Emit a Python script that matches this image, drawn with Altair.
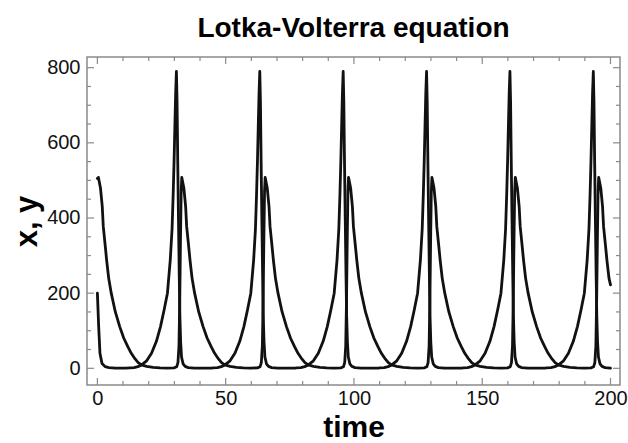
import altair as alt
import pandas as pd

# prey curve (tall peaks ~790)
a_t = [0, 0.5, 1.0, 1.8, 3.0, 4.5, 7, 11,
       14.3, 15.8, 17.2, 19.2, 21.1, 23.0, 24.6, 26.0, 27.3, 28.4, 29.1, 29.55, 29.9, 30.2, 30.5, 30.8,
       31.05, 31.3, 31.6, 31.9, 32.15, 32.45, 32.8, 33.4, 34.2, 35.4, 37.8, 41.8, 44.8,
       46.8, 48.3, 49.7, 51.7, 53.6, 55.5, 57.1, 58.5, 59.8, 60.9, 61.6, 62.05, 62.4, 62.7, 63.0, 63.3,
       63.55, 63.8, 64.1, 64.4, 64.65, 64.95, 65.3, 65.9, 66.7, 67.9, 70.3, 74.3, 77.3,
       79.3, 80.8, 82.2, 84.2, 86.1, 88.0, 89.6, 91.0, 92.3, 93.4, 94.1, 94.55, 94.9, 95.2, 95.5, 95.8,
       96.05, 96.3, 96.6, 96.9, 97.15, 97.45, 97.8, 98.4, 99.2, 100.4, 102.8, 106.8, 109.8,
       111.8, 113.3, 114.7, 116.7, 118.6, 120.5, 122.1, 123.5, 124.8, 125.9, 126.6, 127.05, 127.4, 127.7, 128.0, 128.3,
       128.55, 128.8, 129.1, 129.4, 129.65, 129.95, 130.3, 130.9, 131.7, 132.9, 135.3, 139.3, 142.3,
       144.3, 145.8, 147.2, 149.2, 151.1, 153.0, 154.6, 156.0, 157.3, 158.4, 159.1, 159.55, 159.9, 160.2, 160.5, 160.8,
       161.05, 161.3, 161.6, 161.9, 162.15, 162.45, 162.8, 163.4, 164.2, 165.4, 167.8, 171.8, 174.8,
       176.8, 178.3, 179.7, 181.7, 183.6, 185.5, 187.1, 188.5, 189.8, 190.9, 191.6, 192.05, 192.4, 192.7, 193.0, 193.3,
       193.55, 193.8, 194.1, 194.4, 194.65, 194.95, 195.3, 195.9, 196.7, 197.9, 200.0]
a_v = [200, 111, 40, 13, 4.5, 2, 0.6, 0.4,
       2, 4.5, 9, 20, 40, 72, 111, 155, 200, 288, 370, 465, 554, 643, 730, 790,
       710, 560, 400, 250, 140, 70, 30, 12, 5, 2, 0.6, 0.4, 0.9,
       2, 4.5, 9, 20, 40, 72, 111, 155, 200, 288, 370, 465, 554, 643, 730, 790,
       710, 560, 400, 250, 140, 70, 30, 12, 5, 2, 0.6, 0.4, 0.9,
       2, 4.5, 9, 20, 40, 72, 111, 155, 200, 288, 370, 465, 554, 643, 730, 790,
       710, 560, 400, 250, 140, 70, 30, 12, 5, 2, 0.6, 0.4, 0.9,
       2, 4.5, 9, 20, 40, 72, 111, 155, 200, 288, 370, 465, 554, 643, 730, 790,
       710, 560, 400, 250, 140, 70, 30, 12, 5, 2, 0.6, 0.4, 0.9,
       2, 4.5, 9, 20, 40, 72, 111, 155, 200, 288, 370, 465, 554, 643, 730, 790,
       710, 560, 400, 250, 140, 70, 30, 12, 5, 2, 0.6, 0.4, 0.9,
       2, 4.5, 9, 20, 40, 72, 111, 155, 200, 288, 370, 465, 554, 643, 730, 790,
       710, 560, 400, 250, 140, 70, 30, 12, 5, 2, 0.7]

# predator curve (peaks ~508)
b_t = [0, 0.4, 1.2, 1.9, 2.3, 3.0, 3.6, 4.4, 5.4, 7.0, 8.7, 10.3, 11.9, 13.2, 14.7, 15.9, 17.2, 19.2, 21.7, 24.4, 27.4,
       29.9, 30.9, 31.4, 31.8, 32.1, 32.4, 32.65, 32.9,
       33.7, 34.4, 34.8, 35.5, 36.1, 36.9, 37.9, 39.5, 41.2, 42.8, 44.4, 45.7, 47.2, 48.4, 49.7, 51.7, 54.2, 56.9, 59.9,
       62.4, 63.4, 63.9, 64.3, 64.6, 64.9, 65.15, 65.4,
       66.2, 66.9, 67.3, 68.0, 68.6, 69.4, 70.4, 72.0, 73.7, 75.3, 76.9, 78.2, 79.7, 80.9, 82.2, 84.2, 86.7, 89.4, 92.4,
       94.9, 95.9, 96.4, 96.8, 97.1, 97.4, 97.65, 97.9,
       98.7, 99.4, 99.8, 100.5, 101.1, 101.9, 102.9, 104.5, 106.2, 107.8, 109.4, 110.7, 112.2, 113.4, 114.7, 116.7, 119.2, 121.9, 124.9,
       127.4, 128.4, 128.9, 129.3, 129.6, 129.9, 130.15, 130.4,
       131.2, 131.9, 132.3, 133.0, 133.6, 134.4, 135.4, 137.0, 138.7, 140.3, 141.9, 143.2, 144.7, 145.9, 147.2, 149.2, 151.7, 154.4, 157.4,
       159.9, 160.9, 161.4, 161.8, 162.1, 162.4, 162.65, 162.9,
       163.7, 164.4, 164.8, 165.5, 166.1, 166.9, 167.9, 169.5, 171.2, 172.8, 174.4, 175.7, 177.2, 178.4, 179.7, 181.7, 184.2, 186.9, 189.9,
       192.4, 193.4, 193.9, 194.3, 194.6, 194.9, 195.15, 195.4,
       196.2, 196.9, 197.3, 198.0, 198.6, 199.4, 200.0]
b_v = [505, 508, 480, 430, 377, 330, 288, 240, 200, 150, 111, 80, 57, 40, 25, 15, 9, 5, 2.5, 1.2, 0.6,
       1.2, 4, 15, 60, 180, 350, 470, 508,
       480, 430, 377, 330, 288, 240, 200, 150, 111, 80, 57, 40, 25, 15, 9, 5, 2.5, 1.2, 0.6,
       1.2, 4, 15, 60, 180, 350, 470, 508,
       480, 430, 377, 330, 288, 240, 200, 150, 111, 80, 57, 40, 25, 15, 9, 5, 2.5, 1.2, 0.6,
       1.2, 4, 15, 60, 180, 350, 470, 508,
       480, 430, 377, 330, 288, 240, 200, 150, 111, 80, 57, 40, 25, 15, 9, 5, 2.5, 1.2, 0.6,
       1.2, 4, 15, 60, 180, 350, 470, 508,
       480, 430, 377, 330, 288, 240, 200, 150, 111, 80, 57, 40, 25, 15, 9, 5, 2.5, 1.2, 0.6,
       1.2, 4, 15, 60, 180, 350, 470, 508,
       480, 430, 377, 330, 288, 240, 200, 150, 111, 80, 57, 40, 25, 15, 9, 5, 2.5, 1.2, 0.6,
       1.2, 4, 15, 60, 180, 350, 470, 508,
       480, 430, 377, 330, 288, 240, 222]

x_major = [0, 50, 100, 150, 200]
x_minor = [10, 20, 30, 40, 60, 70, 80, 90, 110, 120, 130, 140, 160, 170, 180, 190]
y_major = [0, 200, 400, 600, 800]
y_minor = [50, 100, 150, 250, 300, 350, 450, 500, 550, 650, 700, 750]

W, H = 533, 328
FRAME = "#8a8a8a"
xs = alt.Scale(domain=[-4.05, 203.7], nice=False, zero=False)
ys = alt.Scale(domain=[-44.4, 828.4], nice=False, zero=False)

df = pd.concat([
    pd.DataFrame({"t": a_t, "v": a_v, "s": "x"}),
    pd.DataFrame({"t": b_t, "v": b_v, "s": "y"}),
])

lines = alt.Chart(df).mark_line(color="#111111", strokeWidth=2.8, strokeJoin="round", strokeCap="round").encode(
    x=alt.X("t:Q", scale=xs, axis=alt.Axis(values=x_major, title="time", labelPadding=3, titleFontSize=30,
                                           titleY=51, titleBaseline="alphabetic")),
    y=alt.Y("v:Q", scale=ys, axis=alt.Axis(values=y_major, title="x, y", labelPadding=7, titlePadding=3)),
    detail="s:N",
)


def xticks(vals, length, top):
    y0, y1 = (0, length) if top else (H, H - length)
    return alt.Chart(pd.DataFrame({"t": vals})).mark_rule(color=FRAME, strokeWidth=1.2).encode(
        x=alt.X("t:Q", scale=xs), y=alt.value(y0), y2=alt.value(y1)
    )


def yticks(vals, length, right):
    x0, x1 = (W, W - length) if right else (0, length)
    return alt.Chart(pd.DataFrame({"v": vals})).mark_rule(color=FRAME, strokeWidth=1.2).encode(
        y=alt.Y("v:Q", scale=ys), x=alt.value(x0), x2=alt.value(x1)
    )


layers = [lines]
for top in (False, True):
    layers.append(xticks(x_major, 7, top))
    layers.append(xticks(x_minor, 4, top))
for right in (False, True):
    layers.append(yticks(y_major, 7, right))
    layers.append(yticks(y_minor, 4, right))

chart = alt.layer(*layers).properties(
    width=W, height=H,
    title=alt.TitleParams("Lotka-Volterra equation", font="Liberation Sans",
                          fontSize=28, fontWeight="bold", color="#000000", anchor="middle", offset=13),
    autosize=alt.AutoSizeParams(type="none"),
    padding={"left": 87, "top": 57, "right": 8, "bottom": 58},
).configure_view(
    stroke=FRAME, strokeWidth=1.5
).configure_axis(
    domain=False, ticks=False, grid=False,
    labelFont="Liberation Sans", labelFontSize=20, labelColor="#111111",
    titleFont="Liberation Sans", titleFontSize=31, titleFontWeight="bold", titleColor="#000000",
)

chart.save("out.html", embed_options={"renderer": "svg", "actions": False})
